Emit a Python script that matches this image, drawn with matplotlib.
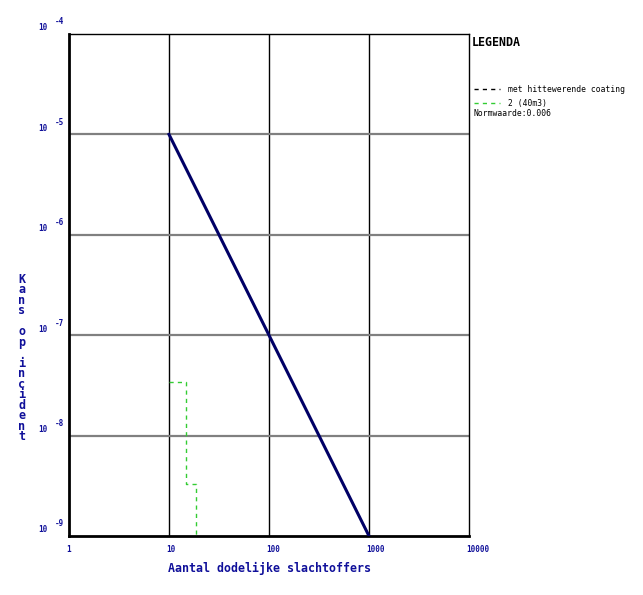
import matplotlib
matplotlib.use("Agg")
import matplotlib.pyplot as plt
import numpy as np

# data
norm_x = [10, 1000]
norm_y = [1e-5, 1e-9]
step_x = [10, 14.7, 14.7, 18.5, 18.5]
step_y = [3.44e-8, 3.44e-8, 3.3e-9, 3.3e-9, 1e-9]
xticks = [1, 10, 100, 1000, 10000]
xtick_labels = ["1", "10", "100", "1000", "10000"]
yexps = [-9, -8, -7, -6, -5, -4]
legend_labels = ["met hittewerende coating", "2 (40m3)"]
legend_colors = ["black", "#33cc33"]
norm_text = "Normwaarde:0.006"

W, H = 643, 595
BLUE = "#10109a"
MONO = "DejaVu Sans Mono"

fig = plt.figure(figsize=(W / 100, H / 100), dpi=100)
ax = fig.add_axes([69 / W, 59 / H, 400 / W, 502 / H])
ax.set_xscale("log")
ax.set_yscale("log")
ax.set_xlim(1, 10000)
ax.set_ylim(1e-9, 1e-4)

# grid
for xv in xticks[1:-1]:
    ax.axvline(xv, color="black", lw=1.0, zorder=1)
for e in yexps[1:-1]:
    ax.axhline(10.0**e, color="#808080", lw=1.6, zorder=1)

ax.plot(norm_x, norm_y, color="#000066", lw=2.2, zorder=3)
ax.plot(step_x, step_y, color=legend_colors[1], lw=1.0, ls=(0, (3, 3)), zorder=3)

ax.set_xticks([])
ax.set_yticks([])
ax.minorticks_off()
for side in ["left", "bottom"]:
    ax.spines[side].set_linewidth(2.0)
for side in ["top", "right"]:
    ax.spines[side].set_linewidth(1.0)


def px(x, y):
    return x / W, 1 - y / H


# x tick labels
for xv, lab in zip(xticks, xtick_labels):
    xp = 69 + 100 * np.log10(xv)
    fig.text(*px(xp - 3, 549), lab, fontsize=5.5, family=MONO, weight="bold",
             color=BLUE, ha="left", va="center")

# y tick labels
for e in yexps:
    yp = 536 - 100.4 * (e + 9)
    fig.text(*px(38, yp - 6), "10", fontsize=5.5, family=MONO, weight="bold",
             color=BLUE, ha="left", va="center")
    fig.text(*px(55, yp - 12), str(e), fontsize=5.5, family=MONO, weight="bold",
             color=BLUE, ha="left", va="center")

fig.text(*px(269, 568), "Aantal dodelijke slachtoffers", fontsize=8.4,
         family=MONO, weight="bold", color=BLUE, ha="center", va="center")

# stacked y label
ylab = "\n".join(ch if ch != " " else " " for ch in "Kans op incident")
fig.text(*px(22, 358), ylab, fontsize=8.5, family=MONO, weight="bold",
         color=BLUE, ha="center", va="center", linespacing=0.75,
         multialignment="center")

# legend
fig.text(*px(472, 42), "LEGENDA", fontsize=8.4, family=MONO, weight="bold",
         color="black", ha="left", va="center")
for i, (lab, col) in enumerate(zip(legend_labels, legend_colors)):
    yy = 89 + 14 * i
    fig.add_artist(plt.Line2D([474 / W, 500 / W], [1 - yy / H] * 2,
                              color=col, lw=1.0, ls=(0, (3, 3))))
    fig.text(*px(508, yy), lab, fontsize=5.8, family=MONO, color="black",
             ha="left", va="center")
fig.text(*px(474, 113), norm_text, fontsize=5.8, family=MONO, color="black",
         ha="left", va="center")

fig.savefig("out.png", dpi=100)
